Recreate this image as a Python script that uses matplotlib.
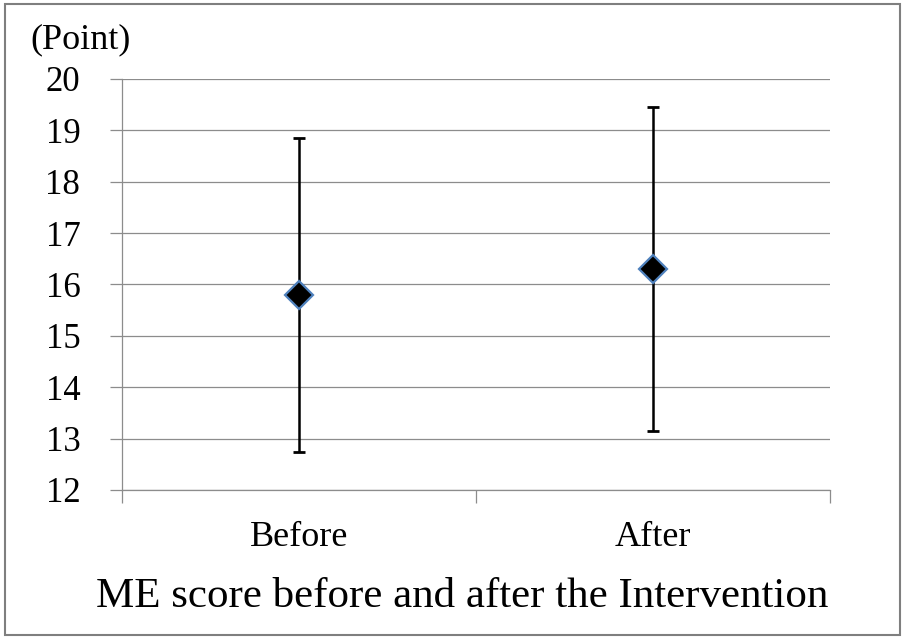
import matplotlib
matplotlib.use('Agg')
import matplotlib.pyplot as plt
from matplotlib.patches import Rectangle

plt.rcParams['font.family'] = ['Liberation Serif', 'DejaVu Serif']

groups = ['Before', 'After']
means = [15.79, 16.30]
sds = [3.06, 3.15]
yticks = [12, 13, 14, 15, 16, 17, 18, 19, 20]

fig = plt.figure(figsize=(9.05, 6.39), dpi=100)
ax = fig.add_axes([0.1348, 0.2332, 0.7823, 0.6432])

xpos = [0.5, 1.5]
ax.errorbar(xpos, means, yerr=sds, fmt='none', ecolor='black',
            elinewidth=1.8, capsize=4.5, capthick=2.0, zorder=3)
ax.plot(xpos, means, linestyle='none', marker='D', markersize=14,
        markerfacecolor='black', markeredgecolor='#4F81BD',
        markeredgewidth=1.6, zorder=4)

ax.set_xlim(0, 2)
ax.set_ylim(12, 20)
ax.set_yticks(yticks)
ax.set_yticklabels([str(v) for v in yticks], fontsize=25)
ax.yaxis.grid(True, color='#8c8c8c', linewidth=0.9)
ax.set_axisbelow(True)

# category boundaries as major ticks, names as minor tick labels
ax.set_xticks([0, 1, 2])
ax.set_xticklabels([])
ax.set_xticks(xpos, minor=True)
ax.set_xticklabels(groups, minor=True, fontsize=26)
ax.tick_params(axis='x', which='major', length=9, color='#8c8c8c', width=0.9)
ax.tick_params(axis='x', which='minor', length=0, pad=22)
ax.tick_params(axis='y', length=9, color='#8c8c8c', width=0.9, pad=21)

for side in ['top', 'right']:
    ax.spines[side].set_visible(False)
for side in ['left', 'bottom']:
    ax.spines[side].set_color('#8c8c8c')
    ax.spines[side].set_linewidth(0.9)

fig.text(30 / 905, 1 - 40 / 639, '(Point)', fontsize=26, ha='left', va='center')
fig.text(462 / 905, 1 - 597 / 639, 'ME score before and after the Intervention',
         fontsize=31, ha='center', va='center')

# frame around the whole figure
fig.patches.append(Rectangle((0.005, 0.006), 0.99, 0.988, transform=fig.transFigure,
                             fill=False, edgecolor='#7f7f7f', linewidth=1.5))

fig.savefig('out.png', dpi=100)
